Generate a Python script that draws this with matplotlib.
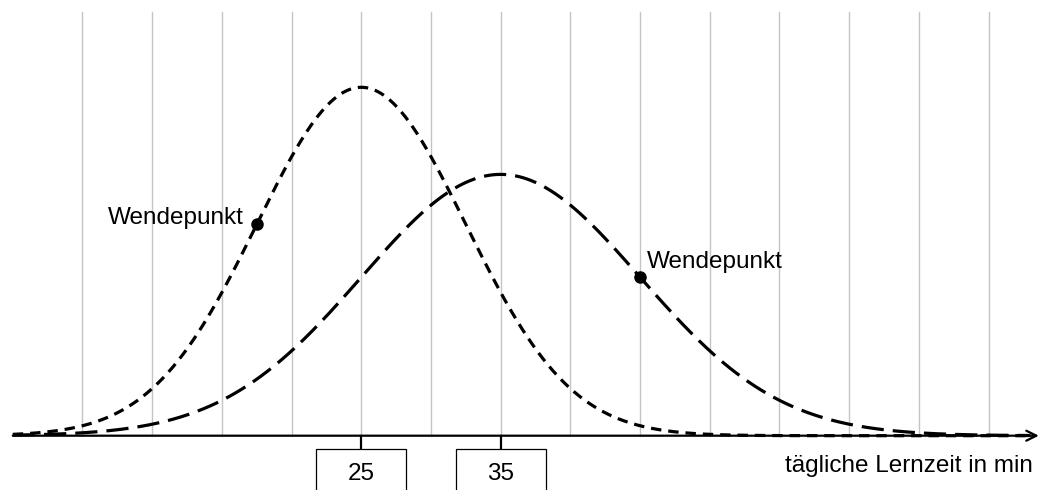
import numpy as np
import matplotlib
matplotlib.use("Agg")
import matplotlib.pyplot as plt
from matplotlib.patches import Rectangle

# two normal distributions (daily learning time)
means = [25, 35]
sigmas = [7.5, 10]
dash_styles = [(7.5, 5.0), (16.0, 6.5)]
grid_x = [5, 10, 15, 20, 25, 30, 35, 40, 45, 50, 55, 60, 65, 70]
tick_labels = [25, 35]
point_label = "Wendepunkt"
x_label = "tägliche Lernzeit in min"

plt.rcParams["font.family"] = ["Liberation Sans", "DejaVu Sans"]
plt.rcParams["lines.scale_dashes"] = False

W, H = 1039, 490
fig = plt.figure(figsize=(W / 100, H / 100), dpi=100)
ax = fig.add_axes([0, 0, 1, 1])
ax.set_axis_off()

# pixel -> data scale
px_per_min = 13.94
x0_px = 12.8
px_per_dens = 6550
axis_px = 435.7  # from top
ax.set_xlim(-x0_px / px_per_min, (W - x0_px) / px_per_min)
ax.set_ylim(-(H - axis_px) / px_per_dens, axis_px / px_per_dens)

def py(px):
    return px / px_per_dens

def pdf(x, mu, s):
    return np.exp(-0.5 * ((x - mu) / s) ** 2) / (s * np.sqrt(2 * np.pi))

# vertical gridlines
for gx in grid_x:
    ax.plot([gx, gx], [0, py(axis_px - 12)], color="#c4c4c4", lw=1.0, zorder=1)

# curves
x = np.linspace(0, 73, 800)
for mu, s, ds in zip(means, sigmas, dash_styles):
    line, = ax.plot(x, pdf(x, mu, s), color="black", lw=2.3, zorder=3)
    line.set_dashes(ds)

# x axis with arrow
ax.annotate("", xy=(73.6, 0), xytext=(0, 0),
            arrowprops=dict(arrowstyle="->", lw=1.6, color="black",
                            mutation_scale=18, shrinkA=0, shrinkB=0),
            zorder=4)

# inflection points
x_left = means[0] - sigmas[0]
y_left = pdf(x_left, means[0], sigmas[0])
x_right = means[1] + sigmas[1]
y_right = pdf(x_right, means[1], sigmas[1])
ax.plot([x_left, x_right], [y_left, y_right], "o", color="black", ms=8, zorder=5)
ax.text(x_left - 13 / px_per_min, y_left, point_label, ha="right", va="baseline",
        fontsize=17.5)
ax.text(x_right + 7 / px_per_min, y_right + py(9), point_label, ha="left",
        va="baseline", fontsize=17.5)

# tick marks with boxed labels
box_w = 90 / px_per_min
for t in tick_labels:
    ax.plot([t, t], [0, py(-13.6)], color="black", lw=1.6, zorder=4)
    ax.add_patch(Rectangle((t - box_w / 2, py(-60)), box_w, py(46.4),
                           facecolor="white", edgecolor="black", lw=0.9,
                           zorder=4, clip_on=False))
    ax.text(t, py(axis_px - 474), str(t), ha="center", va="center",
            fontsize=17.5, zorder=5)

ax.text((1033 - x0_px) / px_per_min, py(axis_px - 472), x_label,
        ha="right", va="baseline", fontsize=17.5)

fig.savefig("out.png", dpi=100)
